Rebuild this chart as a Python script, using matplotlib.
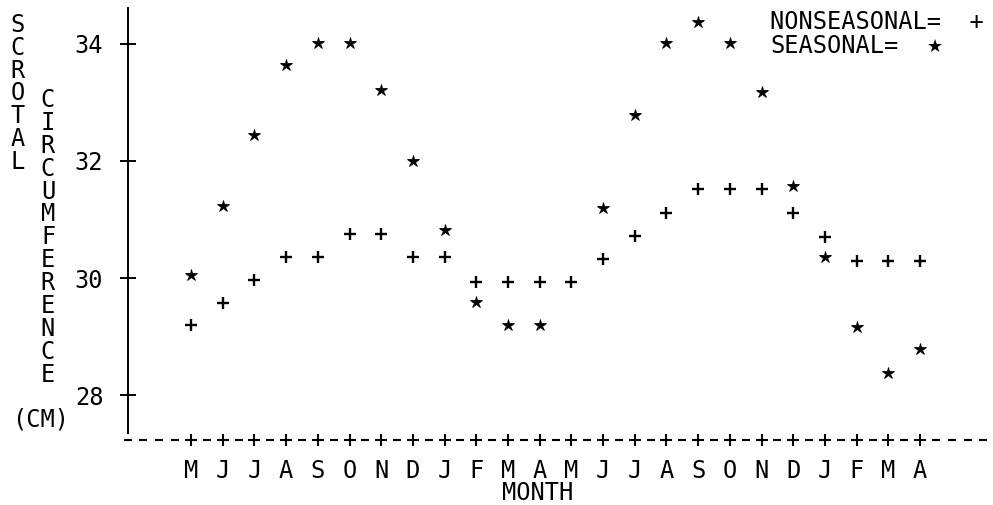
import numpy as np
import matplotlib
matplotlib.use('Agg')
import matplotlib.pyplot as plt

# ---- data ----
months = ['M', 'J', 'J', 'A', 'S', 'O', 'N', 'D', 'J', 'F', 'M', 'A',
          'M', 'J', 'J', 'A', 'S', 'O', 'N', 'D', 'J', 'F', 'M', 'A']
nonseasonal = [29.20, 29.58, 29.97, 30.36, 30.36, 30.75, 30.75, 30.36, 30.36, 29.94, 29.94, 29.94,
               29.94, 30.33, 30.72, 31.11, 31.52, 31.52, 31.52, 31.11, 30.70, 30.29, 30.29, 30.29]
seasonal = [30.05, 31.23, 32.44, 33.64, 34.02, 34.01, 33.21, 32.00, 30.82, 29.59, 29.20, 29.20,
            np.nan, 31.20, 32.78, 34.01, 34.37, 34.01, 33.17, 31.57, 30.36, 29.17, 28.38, 28.79]
y_ticks = [28, 30, 32, 34]
y_tick_labels = ['28', '30', '32', '34']

FONT = 'DejaVu Sans Mono'
FS = 17
plt.rcParams['font.family'] = [FONT, 'DejaVu Sans']

W, H = 993, 505
fig = plt.figure(figsize=(W / 100, H / 100), dpi=100)
ax = fig.add_axes([120 / W, 65 / H, 873 / W, 432 / H])

x = np.arange(len(months))
xmin, xmax = -2.24, 25.30
ymin, ymax = 27.24, 34.61
ax.set_xlim(xmin, xmax)
ax.set_ylim(ymin, ymax)

# data points
ax.plot(x, nonseasonal, linestyle='none', marker='+', markersize=9,
        markeredgewidth=1.7, color='black', zorder=5)
ax.plot(x, seasonal, linestyle='none', marker='*', markersize=8.8,
        markeredgewidth=0.6, color='black', zorder=5)

# dashed baseline with '+' at each month
half = np.arange(-2.0, 25.01, 0.5)
dash_x = [h for h in half if not (float(h).is_integer() and 0 <= h <= len(months) - 1)]
ax.plot(dash_x, [ymin] * len(dash_x), linestyle='none', marker='_', markersize=6,
        markeredgewidth=1.5, color='black', clip_on=False, zorder=4)
ax.plot(x, [ymin] * len(x), linestyle='none', marker='+', markersize=9,
        markeredgewidth=1.5, color='black', clip_on=False, zorder=4)

# axes styling
for s in ['top', 'right', 'bottom']:
    ax.spines[s].set_visible(False)
ax.spines['left'].set_position(('data', -1.99))
ax.spines['left'].set_bounds(27.36, 34.61)
ax.spines['left'].set_linewidth(1.4)

ax.set_yticks(y_ticks, y_tick_labels)
ax.tick_params(axis='y', direction='inout', length=11.5, width=1.4, pad=12,
               labelsize=FS)
ax.set_xticks(x, months)
ax.tick_params(axis='x', length=0, pad=14, labelsize=FS)

ax.set_xlabel('MONTH', fontsize=FS)
ax.xaxis.set_label_coords((538 - 120) / 873, (12 - 65) / 432)
ax.xaxis.label.set_verticalalignment('center')

# stacked y-axis label
def px(xp, yp):
    return xp / W, 1 - yp / H

for i, ch in enumerate('SCROTAL'):
    fig.text(*px(18, 25 + i * 22.8), ch, ha='center', va='center', fontsize=FS)
for i, ch in enumerate('CIRCUMFERENCE'):
    fig.text(*px(48, 100 + i * 22.9), ch, ha='center', va='center', fontsize=FS)
fig.text(*px(41, 420), '(CM)', ha='center', va='center', fontsize=FS)

# legend as text
fig.text(*px(770, 22), 'NONSEASONAL=  +', ha='left', va='center', fontsize=FS)
fig.text(*px(770, 46), 'SEASONAL=', ha='left', va='center', fontsize=FS)
fig.text(*px(935, 47), '\u2605', ha='center', va='center', fontsize=13,
         family='DejaVu Sans')

fig.savefig('out.png', dpi=100)
